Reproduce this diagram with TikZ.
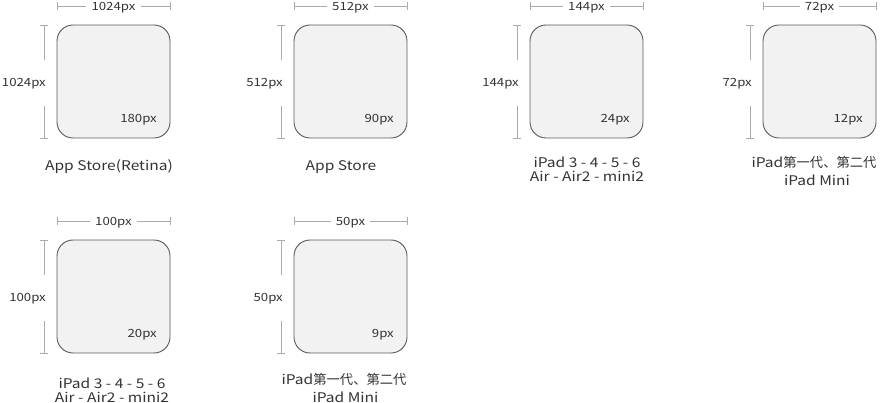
\documentclass[tikz,border=0pt]{standalone}
\usepackage{fontspec}
\setmainfont{Noto Sans CJK JP}
\newfontfamily\widefont[FakeStretch=1.17]{Noto Sans CJK JP}
\newfontfamily\cjkfont{Noto Sans CJK JP}
\definecolor{boxc}{HTML}{5A5A5A}
\definecolor{boxfill}{HTML}{F2F2F2}
\definecolor{dimc}{HTML}{ABABAB}
\definecolor{txtc}{HTML}{333333}
\newcommand\IconSpec[5]{%
  \node[icon] (#1) at ({#2+56.5},{#3+56.5}) {};
  \node[radtxt] (#1r) at ({#2+100},{#3+93}) {#5};
  \coordinate (#1tl) at ({#2},{#3-19});
  \coordinate (#1tr) at ({#2+113},{#3-19});
  \node[dimtxt, inner xsep=5pt] (#1w) at ({#2+56.5},{#3-19}) {#4};
  \draw[dimline] (#1tl) -- (#1w.west) (#1w.east) -- (#1tr);
  \draw[dimline] ([yshift=4pt]#1tl) -- ([yshift=-4pt]#1tl);
  \draw[dimline] ([yshift=4pt]#1tr) -- ([yshift=-4pt]#1tr);
  \coordinate (#1vt) at ({#2-13},{#3});
  \coordinate (#1vb) at ({#2-13},{#3+113});
  \coordinate (#1va) at ({#2-13},{#3+35});
  \coordinate (#1vc) at ({#2-13},{#3+81});
  \node[dimtxt, anchor=east] (#1h) at ({#2-11},{#3+57}) {#4};
  \draw[dimline] (#1vt) -- (#1va) (#1vc) -- (#1vb);
  \draw[dimline] ([xshift=-4pt]#1vt) -- ([xshift=4pt]#1vt);
  \draw[dimline] ([xshift=-4pt]#1vb) -- ([xshift=4pt]#1vb);
}
\newcommand\GenText{iPad{\cjkfont 第一代、第二代}}
\begin{document}
\begin{tikzpicture}[x=1pt,y=-1pt,
  icon/.style={draw=boxc, fill=boxfill, line width=0.9pt, rounded corners=16pt,
    minimum size=113pt, inner sep=0pt, outer sep=0pt},
  dimline/.style={draw=dimc, line width=0.8pt},
  dimtxt/.style={font=\widefont\fontsize{11.3}{13}\selectfont, text=txtc, inner sep=0pt,
    text height=8.2pt, text depth=0pt},
  radtxt/.style={dimtxt, anchor=east},
  captxt/.style={font=\widefont\fontsize{13.3}{15}\selectfont, text=txtc, inner sep=0pt}]
\useasboundingbox (0,0) rectangle (882,403);
\IconSpec{a}{57}{25}{1024px}{180px}
\IconSpec{b}{294}{25}{512px}{90px}
\IconSpec{c}{530}{25}{144px}{24px}
\IconSpec{d}{763}{25}{72px}{12px}
\IconSpec{e}{57}{240}{100px}{20px}
\IconSpec{f}{294}{240}{50px}{9px}
\node[captxt] (ca) at (109,167) {App Store(Retina)};
\node[captxt] (cb) at (341,167) {App Store};
\node[captxt] (cc1) at (587,162) {iPad 3 - 4 - 5 - 6};
\node[captxt] (cc2) at (587,176) {Air - Air2 - mini2};
\node[captxt] (cd1) at (814,162) {\GenText};
\node[captxt] (cd2) at (817,180) {iPad Mini};
\node[captxt] (ce1) at (112,383) {iPad 3 - 4 - 5 - 6};
\node[captxt] (ce2) at (112,397) {Air - Air2 - mini2};
\node[captxt] (cf1) at (344,379) {\GenText};
\node[captxt] (cf2) at (345.5,397) {iPad Mini};
\end{tikzpicture}
\end{document}
